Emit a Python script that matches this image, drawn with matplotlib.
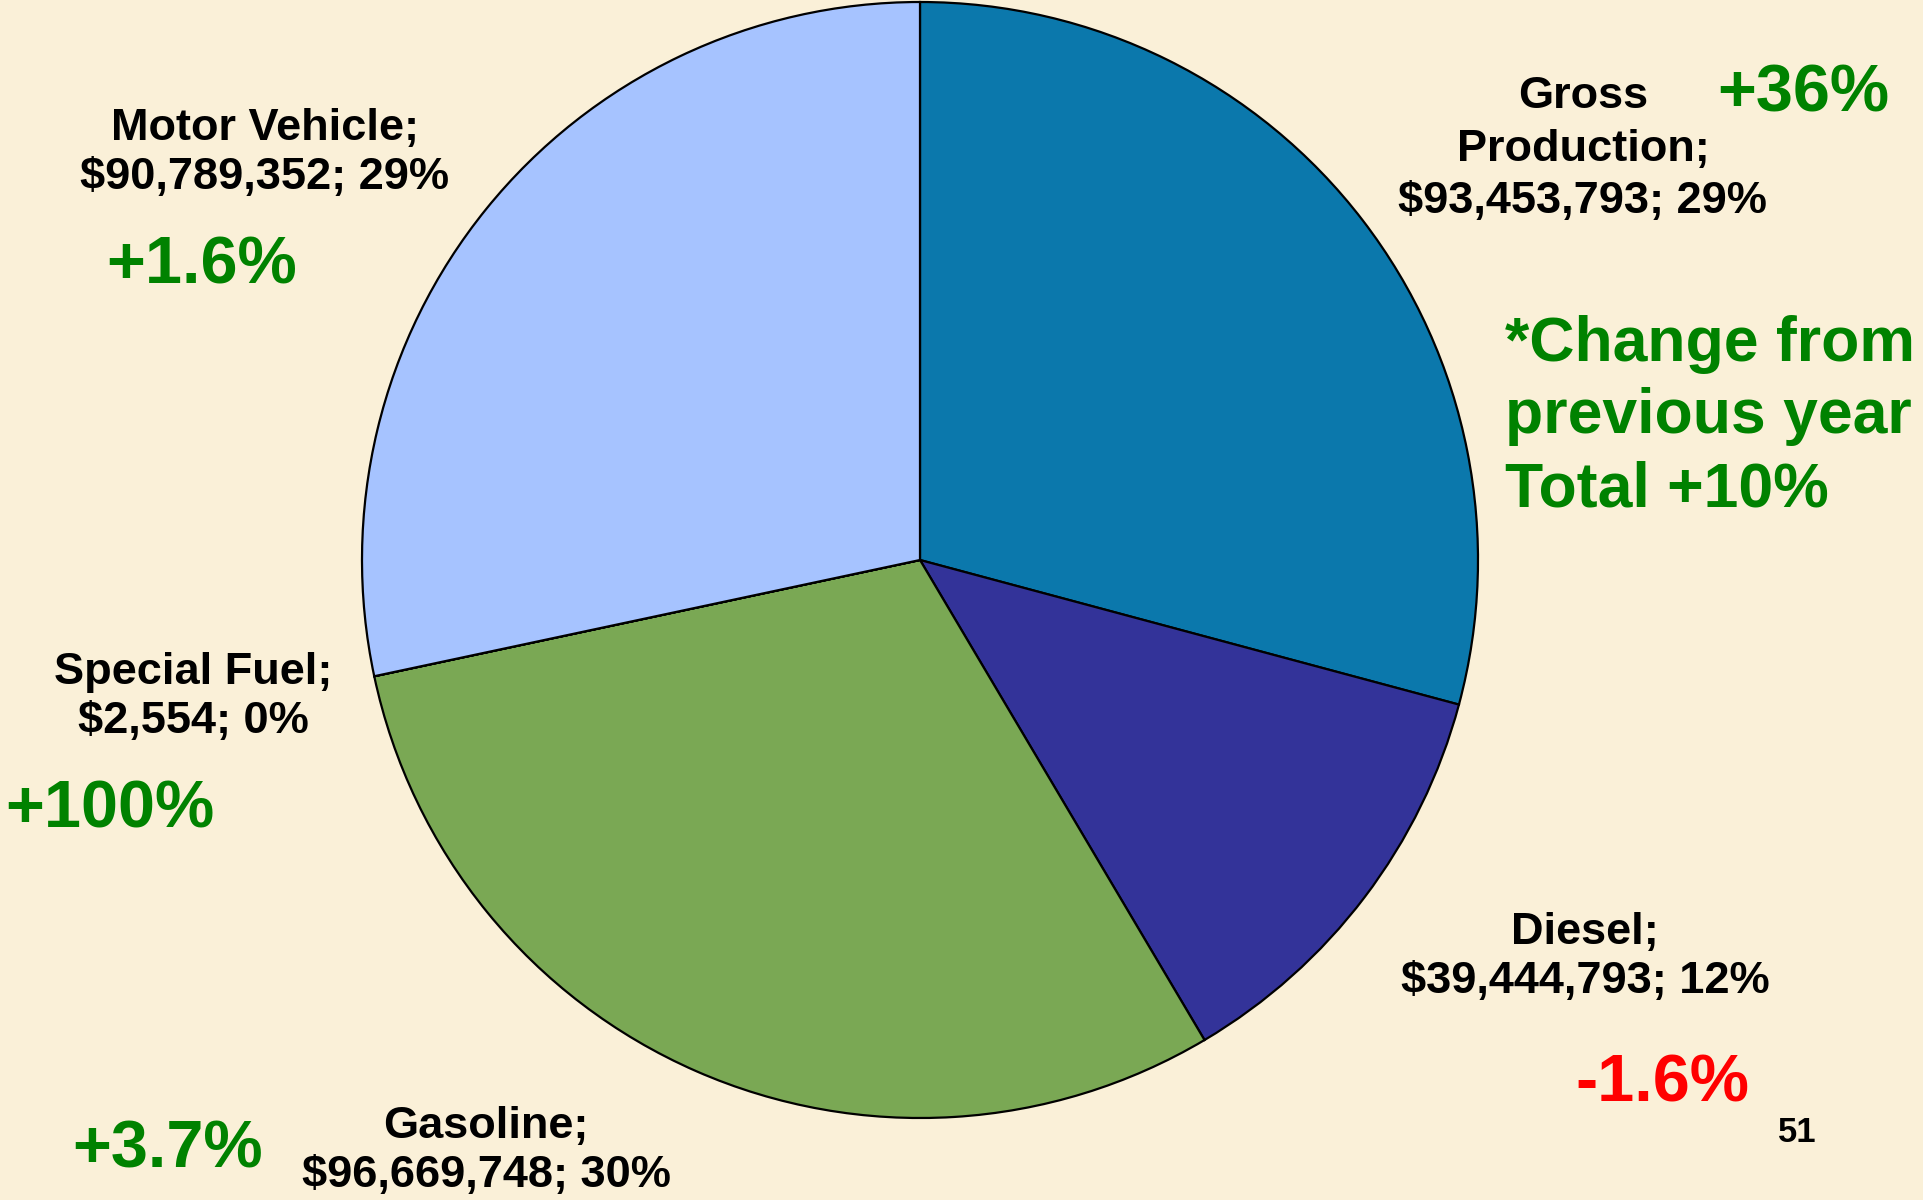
import matplotlib
matplotlib.use("Agg")
import matplotlib.pyplot as plt

categories = ["Gross Production", "Diesel", "Gasoline", "Special Fuel", "Motor Vehicle"]
values = [93453793, 39444793, 96669748, 2554, 90789352]
pcts = ["29%", "12%", "30%", "0%", "29%"]
changes = ["+36%", "-1.6%", "+3.7%", "+100%", "+1.6%"]
colors = ["#0B78AC", "#333399", "#7AA854", "#7AA854", "#A6C3FF"]

BG = "#FAF0D8"
GREEN = "#008200"
RED = "#FF0000"
FONT = "Liberation Sans"

W, H = 1923, 1200
fig = plt.figure(figsize=(W / 100, H / 100), dpi=100, facecolor=BG)
ax = fig.add_axes([0, 0, 1, 1])
ax.set_facecolor(BG)
ax.set_xlim(0, W)
ax.set_ylim(0, H)
ax.set_aspect("equal")
ax.axis("off")

cx, cy, r = 920, H - 560, 558
ax.pie(values, colors=colors, startangle=90, counterclock=False,
       center=(cx, cy), radius=r,
       wedgeprops=dict(edgecolor="black", linewidth=1.6))
ax.set_xlim(0, W)
ax.set_ylim(0, H)


def T(x, y, s, size, color="black", ha="center", ls=1.28):
    ax.text(x, H - y, s, fontsize=size, color=color, ha=ha, va="center",
            family=FONT, fontweight="bold", linespacing=ls)


def money(v):
    return "${:,}".format(v)

lab = {c: f"{c};\n{money(v)}; {p}" for c, v, p in zip(categories, values, pcts)}

# Gross Production label drawn line by line
T(1583, 96, "Gross", 32.5)
T(1583, 149, "Production;", 32.5)
T(1583, 201, f"{money(values[0])}; {pcts[0]}", 32.5)
T(1803, 95, changes[0], 48, GREEN)
T(1505, 417, "*Change from\nprevious year\nTotal +10%", 45, GREEN, ha="left", ls=1.3)
T(265, 153, lab["Motor Vehicle"], 32.5)
T(202, 266, changes[4], 48, GREEN)
T(193, 697, lab["Special Fuel"], 32.5)
T(110, 811, changes[3], 48, GREEN)
T(1585, 957, lab["Diesel"], 32.5)
T(1662, 1084, changes[1], 48, RED)
T(486, 1151, lab["Gasoline"], 32.5)
T(168, 1151, changes[2], 48, GREEN)
T(1797, 1132, "51", 25)

fig.savefig("out.png", dpi=100, facecolor=BG)
